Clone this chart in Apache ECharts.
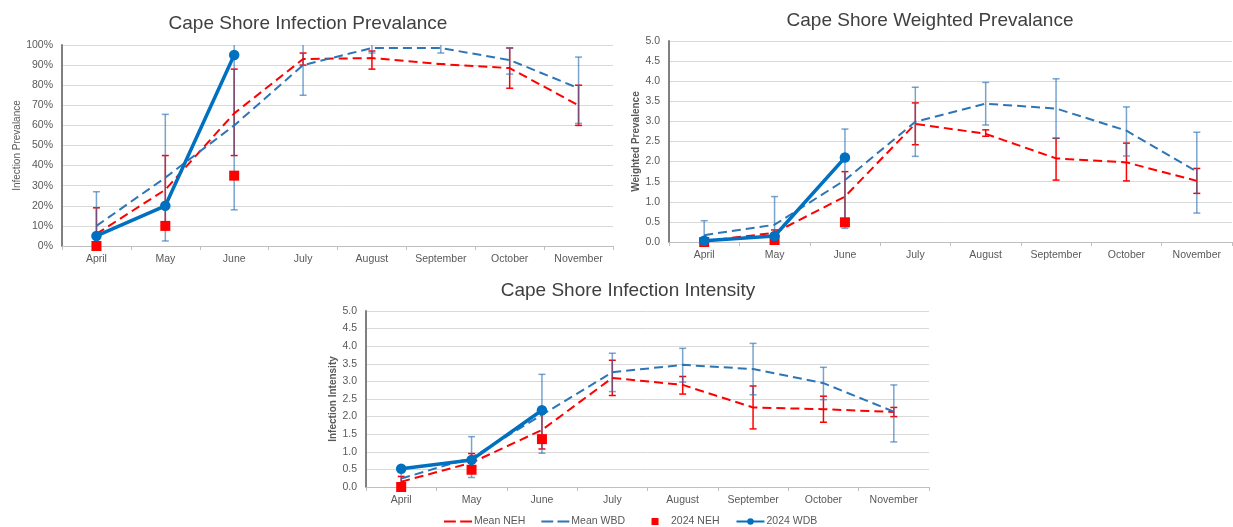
<!DOCTYPE html>
<html>
<head>
<meta charset="utf-8">
<script src="https://cdn.jsdelivr.net/npm/echarts@6/dist/echarts.min.js"></script>
<style>
html,body{margin:0;padding:0;background:#fff;}
#chart{width:1233px;height:527px;}
</style>
</head>
<body>
<div id="chart"></div>
<script>
// ---------- data ----------
const months = ['April','May','June','July','August','September','October','November'];

// Infection Prevalence (%)
const prevMeanNEH = [6, 28, 66, 93, 93.5, 90.5, 88.5, 70];
const prevMeanWBD = [10, 34, 60, 90, 98.5, 98.5, 92.5, 78.5];
const prev2024NEH = [0, 10, 35];
const prev2024WDB = [5, 20, 95];
const prevErrNEH = [[-7, 19], [11, 45], [45, 88], [90, 96], [88, 97], [90.5, 90.5], [78.5, 98.5], [60, 80]];
const prevErrWBD = [[-7, 27], [2.5, 65.5], [18, 102], [75, 105], [96, 100.5], [96, 100.5], [85.5, 98.5], [61, 94]];

// Weighted Prevalence
const wpMeanNEH = [0.02, 0.23, 1.13, 2.94, 2.69, 2.08, 1.98, 1.52];
const wpMeanWBD = [0.17, 0.43, 1.54, 2.99, 3.44, 3.32, 2.77, 1.75];
const wp2024NEH = [0.0, 0.05, 0.49];
const wp2024WDB = [0.03, 0.15, 2.1];
const wpErrNEH = [[0, 0.05], [0.15, 0.3], [0.5, 1.75], [2.42, 3.46], [2.63, 2.79], [1.54, 2.58], [1.52, 2.46], [1.21, 1.83]];
const wpErrWBD = [[-0.18, 0.53], [-0.26, 1.13], [0.34, 2.81], [2.13, 3.85], [2.91, 3.97], [2.58, 4.06], [2.14, 3.36], [0.72, 2.73]];

// Infection Intensity
const intMeanNEH = [0.15, 0.69, 1.62, 3.1, 2.9, 2.26, 2.21, 2.13];
const intMeanWBD = [0.24, 0.83, 2.05, 3.26, 3.47, 3.35, 2.95, 2.14];
const int2024NEH = [0.0, 0.49, 1.36];
const int2024WDB = [0.52, 0.77, 2.18];
const intErrNEH = [[0.0, 0.3], [0.45, 0.95], [1.08, 2.1], [2.6, 3.6], [2.64, 3.14], [1.65, 2.87], [1.84, 2.58], [2.0, 2.26]];
const intErrWBD = [[0.05, 0.45], [0.27, 1.43], [0.96, 3.2], [2.71, 3.8], [2.98, 3.94], [2.62, 4.08], [2.48, 3.4], [1.28, 2.9]];

const titles = ['Cape Shore Infection Prevalance', 'Cape Shore Weighted Prevalance', 'Cape Shore Infection Intensity'];
const yNames = ['Infection Prevalance', 'Weighted Prevalence', 'Infection Intensity'];
const legendNames = ['Mean NEH', 'Mean WBD', '2024 NEH', '2024 WDB'];

// ---------- styles ----------
const RED = '#FF0000';
const BLUE = '#0070C0';
const BLUE_DASH = '#2E75B6';
const FONT = 'Liberation Sans, Arial, sans-serif';
const TXT = '#595959';

const chart = echarts.init(document.getElementById('chart'), null, {renderer: 'canvas'});

function errSeries(name, data, gi, color, opacity) {
  return {
    type: 'custom', name: name + '_err', xAxisIndex: gi, yAxisIndex: gi, z: 1,
    clip: true, silent: true,
    data: data.map((d, i) => [i, d[0], d[1]]),
    encode: {x: 0, y: [1, 2]},
    renderItem: function (params, api) {
      const lo = api.coord([api.value(0), api.value(1)]);
      const hi = api.coord([api.value(0), api.value(2)]);
      const w = 3.5;
      const style = {stroke: color, lineWidth: 1.5, opacity: opacity};
      return {
        type: 'group',
        children: [
          {type: 'line', shape: {x1: lo[0], y1: lo[1], x2: hi[0], y2: hi[1]}, style: style},
          {type: 'line', shape: {x1: lo[0] - w, y1: lo[1], x2: lo[0] + w, y2: lo[1]}, style: style},
          {type: 'line', shape: {x1: hi[0] - w, y1: hi[1], x2: hi[0] + w, y2: hi[1]}, style: style}
        ]
      };
    }
  };
}

function chartSeries(gi, meanNEH, meanWBD, neh24, wdb24, errNEH, errWBD) {
  return [
    errSeries(legendNames[0], errNEH, gi, RED, 1),
    errSeries(legendNames[1], errWBD, gi, BLUE_DASH, 0.65),
    {name: legendNames[0], type: 'line', xAxisIndex: gi, yAxisIndex: gi, data: meanNEH, z: 3,
     symbol: 'none', lineStyle: {color: RED, width: 2, type: [9, 5]}, itemStyle: {color: RED}},
    {name: legendNames[1], type: 'line', xAxisIndex: gi, yAxisIndex: gi, data: meanWBD, z: 3,
     symbol: 'none', lineStyle: {color: BLUE_DASH, width: 2, type: [9, 5]}, itemStyle: {color: BLUE_DASH}},
    {name: legendNames[2], type: 'scatter', xAxisIndex: gi, yAxisIndex: gi, data: neh24, z: 4,
     symbol: 'rect', symbolSize: 10, itemStyle: {color: RED, opacity: 1}},
    {name: legendNames[3], type: 'line', xAxisIndex: gi, yAxisIndex: gi, data: wdb24, z: 5,
     symbol: 'circle', symbolSize: 10.5, showSymbol: true,
     lineStyle: {color: BLUE, width: 3.5}, itemStyle: {color: BLUE}}
  ];
}

const grids = [
  {left: 62, top: 45, width: 551, height: 201},
  {left: 669, top: 41, width: 563, height: 201},
  {left: 366, top: 311, width: 563, height: 176}
];

const xAxes = grids.map((g, i) => ({
  type: 'category', gridIndex: i, data: months, boundaryGap: true,
  axisLine: {lineStyle: {color: '#BFBFBF', width: 1}},
  axisTick: {show: true, length: 4, lineStyle: {color: '#BFBFBF'}},
  axisLabel: {color: TXT, fontFamily: FONT, fontSize: 10.5, margin: 8},
  splitLine: {show: false}
}));

const yAxes = [
  {type: 'value', gridIndex: 0, min: 0, max: 100, interval: 10,
   name: yNames[0], nameLocation: 'middle', nameGap: 38, nameRotate: 90,
   nameTextStyle: {color: TXT, fontFamily: FONT, fontSize: 10},
   axisLabel: {formatter: '{value}%', color: TXT, fontFamily: FONT, fontSize: 10.5, margin: 9}},
  {type: 'value', gridIndex: 1, min: 0, max: 5, interval: 0.5,
   name: yNames[1], nameLocation: 'middle', nameGap: 28, nameRotate: 90,
   nameTextStyle: {color: TXT, fontFamily: FONT, fontSize: 10, fontWeight: 'bold'},
   axisLabel: {formatter: v => v.toFixed(1), color: TXT, fontFamily: FONT, fontSize: 10.5, margin: 9}},
  {type: 'value', gridIndex: 2, min: 0, max: 5, interval: 0.5,
   name: yNames[2], nameLocation: 'middle', nameGap: 28, nameRotate: 90,
   nameTextStyle: {color: TXT, fontFamily: FONT, fontSize: 10, fontWeight: 'bold'},
   axisLabel: {formatter: v => v.toFixed(1), color: TXT, fontFamily: FONT, fontSize: 10.5, margin: 9}}
].map(a => Object.assign(a, {
  axisLine: {show: true, lineStyle: {color: '#808080', width: 2}},
  axisTick: {show: false},
  splitLine: {show: true, lineStyle: {color: '#D9D9D9', width: 1}}
}));

const DASH_ICON = 'path://M0,0 L11,0 L11,2 L0,2 Z M15,0 L26,0 L26,2 L15,2 Z';
const SQUARE_ICON = 'path://M0,3.5 L0.01,3.5 L0.01,3.51 Z M10.5,0 L17.5,0 L17.5,7 L10.5,7 Z M28,3.5 L27.99,3.5 L27.99,3.51 Z';

const option = {
  animation: false,
  backgroundColor: '#fff',
  title: [
    {text: titles[0], left: 303, top: 9, textAlign: 'center'},
    {text: titles[1], left: 925, top: 6, textAlign: 'center'},
    {text: titles[2], left: 623, top: 276, textAlign: 'center'}
  ].map(t => Object.assign(t, {textStyle: {color: '#404040', fontFamily: FONT, fontSize: 19, fontWeight: 'normal'}})),
  legend: {
    top: 511, left: 439,
    data: [
      {name: legendNames[0], icon: DASH_ICON},
      {name: legendNames[1], icon: DASH_ICON},
      {name: legendNames[2], icon: SQUARE_ICON},
      {name: legendNames[3]}
    ],
    itemWidth: 28, itemHeight: 8, itemGap: 16,
    textStyle: {color: TXT, fontFamily: FONT, fontSize: 10.5, padding: [0, 0, 0, -3]}
  },
  grid: grids,
  xAxis: xAxes,
  yAxis: yAxes,
  series: [].concat(
    chartSeries(0, prevMeanNEH, prevMeanWBD, prev2024NEH, prev2024WDB, prevErrNEH, prevErrWBD),
    chartSeries(1, wpMeanNEH, wpMeanWBD, wp2024NEH, wp2024WDB, wpErrNEH, wpErrWBD),
    chartSeries(2, intMeanNEH, intMeanWBD, int2024NEH, int2024WDB, intErrNEH, intErrWBD)
  )
};
chart.setOption(option);
</script>
</body>
</html>
